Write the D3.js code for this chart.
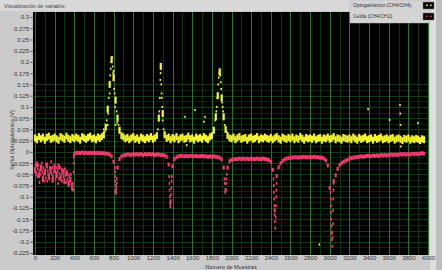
<!DOCTYPE html>
<html>
<head>
<meta charset="utf-8">
<script src="https://cdn.jsdelivr.net/npm/d3@7"></script>
<style>
  body { margin: 0; background: #cbcbcb; }
  text { font-family: "Liberation Sans", Arial, sans-serif; }
</style>
</head>
<body>
<div id="c1"></div>
<script>
// ---- data ----
chartTitle = "Visualización de variable."
xTitle = "Número de Muestras"
yTitle = "Señal Optogalvánica (V)"
seriesNames = ["Optogalvánico (CH4/CH4)", "Celda (CH4/CH2)"]

xTicks = [0, 200, 400, 600, 800, 1000, 1200, 1400, 1600, 1800, 2000, 2200, 2400, 2600, 2800, 3000, 3200, 3400, 3600, 3800, 4000]
yTicks = [0.3, 0.275, 0.25, 0.225, 0.2, 0.175, 0.15, 0.125, 0.1, 0.075, 0.05, 0.025, 0,
  -0.025, -0.05, -0.075, -0.1, -0.125, -0.15, -0.175, -0.2, -0.225]
yTickLabels = ["0.3", "0.275", "0.25", "0.225", "0.2", "0.175", "0.15", "0.125", "0.1", "0.075", "0.05", "0.025", "0",
  "-0.025", "-0.05", "-0.075", "-0.1", "-0.125", "-0.15", "-0.175", "-0.2", "-0.225"]

// one value every 20 samples, from sample 0
sampleStep = 20
optoValues = [
  0.031,0.027,0.034,0.029,0.033,0.026,0.032,0.035,0.028,0.030,
  0.033,0.029,0.026,0.034,0.031,0.028,0.035,0.030,0.027,0.032,
  0.029,0.033,0.030,0.026,0.034,0.031,0.028,0.032,0.035,0.029,
  0.031,0.027,0.033,0.030,0.034,0.038,0.055,0.095,0.150,0.205,
  0.165,0.115,0.075,0.048,0.036,0.033,0.029,0.032,0.027,0.031,
  0.034,0.028,0.031,0.026,0.033,0.030,0.027,0.032,0.029,0.034,
  0.028,0.031,0.036,0.075,0.190,0.085,0.038,0.030,0.033,0.027,
  0.032,0.029,0.034,0.027,0.031,0.033,0.028,0.030,0.035,0.029,
  0.031,0.026,0.033,0.029,0.032,0.028,0.034,0.030,0.027,0.033,
  0.036,0.048,0.078,0.125,0.178,0.120,0.078,0.050,0.036,0.031,
  0.029,0.033,0.027,0.031,0.034,0.028,0.030,0.032,0.026,0.031,
  0.033,0.028,0.030,0.034,0.027,0.031,0.029,0.033,0.030,0.028,
  0.032,0.027,0.031,0.034,0.029,0.026,0.033,0.030,0.028,0.032,
  0.029,0.033,0.027,0.031,0.028,0.034,0.030,0.026,0.032,0.029,
  0.031,0.028,0.033,0.027,0.030,0.032,0.026,0.031,0.029,0.033,
  0.028,0.030,0.034,0.027,0.031,0.029,0.026,0.032,0.030,0.028,
  0.031,0.027,0.033,0.029,0.026,0.032,0.028,0.030,0.033,0.027,
  0.029,0.031,0.026,0.032,0.028,0.030,0.033,0.027,0.029,0.031,
  0.027,0.030,0.032,0.026,0.029,0.031,0.028,0.025,0.030,0.028,
  0.031,0.026,0.029,0.027,0.030,0.028,0.025,0.029,0.027
]
celdaValues = [
  -0.040,-0.028,-0.052,-0.035,-0.060,-0.045,-0.030,-0.055,-0.040,-0.062,
  -0.038,-0.050,-0.033,-0.058,-0.045,-0.065,-0.048,-0.070,-0.062,-0.080,
  -0.005,-0.002,-0.002,-0.003,-0.001,-0.003,-0.002,-0.003,-0.002,-0.003,
  -0.002,-0.003,-0.002,-0.003,-0.003,-0.003,-0.004,-0.004,-0.006,-0.010,
  -0.022,-0.088,-0.035,-0.016,-0.010,-0.008,-0.007,-0.006,-0.006,-0.007,
  -0.005,-0.006,-0.005,-0.006,-0.005,-0.007,-0.005,-0.006,-0.005,-0.006,
  -0.005,-0.007,-0.006,-0.006,-0.007,-0.007,-0.008,-0.011,-0.028,-0.110,
  -0.032,-0.016,-0.012,-0.010,-0.009,-0.009,-0.010,-0.009,-0.010,-0.009,
  -0.009,-0.010,-0.009,-0.010,-0.010,-0.009,-0.010,-0.010,-0.011,-0.010,
  -0.011,-0.010,-0.011,-0.012,-0.013,-0.017,-0.035,-0.085,-0.035,-0.021,
  -0.018,-0.017,-0.016,-0.016,-0.015,-0.016,-0.015,-0.016,-0.015,-0.016,
  -0.015,-0.016,-0.016,-0.015,-0.016,-0.016,-0.015,-0.016,-0.017,-0.018,
  -0.022,-0.040,-0.130,-0.054,-0.034,-0.025,-0.020,-0.017,-0.015,-0.014,
  -0.013,-0.013,-0.012,-0.012,-0.013,-0.012,-0.012,-0.011,-0.012,-0.012,
  -0.012,-0.012,-0.011,-0.012,-0.012,-0.013,-0.013,-0.015,-0.019,-0.030,
  -0.080,-0.180,-0.065,-0.052,-0.038,-0.029,-0.025,-0.022,-0.020,-0.018,
  -0.015,-0.014,-0.013,-0.012,-0.012,-0.011,-0.010,-0.011,-0.010,-0.009,
  -0.009,-0.010,-0.008,-0.009,-0.008,-0.009,-0.007,-0.008,-0.007,-0.008,
  -0.007,-0.006,-0.007,-0.006,-0.007,-0.006,-0.005,-0.006,-0.005,-0.006,
  -0.005,-0.006,-0.004,-0.005,-0.004,-0.005,-0.004,-0.003,-0.004
]

// loose dots: [sample, value]
optoExtra = [
  [700,0.050],[710,0.045],[730,0.070],[740,0.060],[745,0.085],[750,0.120],[760,0.130],[765,0.170],[770,0.185],
  [775,0.200],[785,0.210],[790,0.190],[795,0.175],[800,0.180],[805,0.140],[810,0.130],[815,0.100],[820,0.060],
  [830,0.090],[835,0.065],[850,0.060],[860,0.050],
  [1250,0.050],[1265,0.090],[1270,0.120],[1275,0.160],[1278,0.175],[1283,0.190],[1285,0.150],[1288,0.130],
  [1290,0.120],[1295,0.100],[1300,0.070],[1310,0.050],
  [1835,0.070],[1845,0.090],[1850,0.100],[1855,0.120],[1865,0.150],[1870,0.165],[1875,0.175],[1880,0.180],
  [1885,0.170],[1890,0.155],[1895,0.140],[1905,0.110],[1910,0.100],[1915,0.090],[1930,0.060],[1950,0.045],
  [1527,0.078],[1544,0.015],[1628,0.093],[1720,0.067],[1730,0.078],
  [2894,-0.206],[3390,0.095],[3610,0.071],[3715,0.104],[3718,0.085],[3720,0.060],[3722,0.012],[3898,0.064]
]
celdaExtra = [
  [5,-0.030],[10,-0.050],[15,-0.045],[25,-0.055],[30,-0.038],[35,-0.030],[45,-0.068],[50,-0.042],[55,-0.050],
  [65,-0.040],[70,-0.025],[75,-0.045],[85,-0.035],[90,-0.050],[95,-0.065],[105,-0.040],[110,-0.058],
  [115,-0.028],[125,-0.065],[130,-0.042],[135,-0.050],[145,-0.060],[150,-0.035],[155,-0.045],[165,-0.022],
  [170,-0.050],[175,-0.035],[185,-0.055],[190,-0.045],[195,-0.030],[205,-0.045],[210,-0.060],[215,-0.035],
  [225,-0.055],[230,-0.042],[235,-0.070],[245,-0.060],[250,-0.048],[255,-0.035],[265,-0.055],[270,-0.040],
  [275,-0.065],[285,-0.040],[290,-0.055],[295,-0.045],[305,-0.038],[310,-0.052],[315,-0.068],[325,-0.045],
  [330,-0.060],[335,-0.050],[345,-0.075],[350,-0.055],[355,-0.065],[365,-0.050],[370,-0.072],[375,-0.080],
  [385,-0.070],[390,-0.085],[392,-0.045],[394,-0.025],[396,-0.012],
  [812,-0.035],[815,-0.045],[817,-0.055],[819,-0.065],[821,-0.075],[824,-0.085],[826,-0.092],[830,-0.080],
  [832,-0.070],[834,-0.060],
  [1365,-0.055],[1368,-0.070],[1370,-0.085],[1372,-0.100],[1375,-0.115],[1378,-0.122],[1384,-0.095],
  [1387,-0.080],[1390,-0.065],[1393,-0.055],
  [1928,-0.060],[1932,-0.070],[1936,-0.090],[1944,-0.070],[1948,-0.060],[1952,-0.050],
  [2428,-0.060],[2430,-0.075],[2432,-0.090],[2434,-0.105],[2436,-0.120],[2438,-0.140],[2442,-0.155],
  [2446,-0.170],[2450,-0.145],[2452,-0.120],[2454,-0.100],[2456,-0.085],[2458,-0.070],
  [3008,-0.090],[3010,-0.105],[3012,-0.120],[3014,-0.135],[3016,-0.150],[3018,-0.165],[3022,-0.195],
  [3026,-0.210],[3030,-0.190],[3032,-0.160],[3034,-0.130],[3036,-0.105],[3038,-0.085],[3039,-0.070]
]

optoColor = "#f4f532"
celdaColor = "#f23a6e"

W = 442, H = 270
plot = {left: 33, right: 429, top: 12, bottom: 255}

svg = d3.select("#c1")
  .append("svg")
  .attr("width", W)
  .attr("height", H)

svg.append("rect").attr("width", W).attr("height", H).attr("fill", "#cbcbcb")

// title bar
svg.append("rect").attr("x", 0).attr("y", 0).attr("width", 350).attr("height", 11).attr("fill", "#d8d8d8")
svg.append("text")
  .attr("x", 4).attr("y", 8)
  .style("font-size", "5.5px").attr("fill", "#444")
  .text(chartTitle)

// scroll strip on the right
svg.append("rect").attr("x", 430).attr("y", 0).attr("width", 6).attr("height", H).attr("fill", "#dedede")
svg.append("rect").attr("x", 436).attr("y", 0).attr("width", 6).attr("height", H).attr("fill", "#bdbdbd")

x = d3.scaleLinear().domain([0, 4000]).range([35, 428])
y = d3.scaleLinear().domain([-0.225, 0.3]).range([253, 17])

svg.append("rect")
  .attr("x", plot.left).attr("y", plot.top)
  .attr("width", plot.right - plot.left).attr("height", plot.bottom - plot.top)
  .attr("fill", "#000")

svg.append("clipPath").attr("id", "clip")
  .append("rect")
  .attr("x", plot.left).attr("y", plot.top)
  .attr("width", plot.right - plot.left).attr("height", plot.bottom - plot.top)

grid = svg.append("g").attr("clip-path", "url(#clip)")

// horizontal grid only shows from 0.15 down
hMinor = d3.range(0, 30).map(i => 0.15 - i * 0.0125)
grid.selectAll(".hg")
  .data(hMinor)
  .join("line")
  .attr("x1", plot.left).attr("x2", plot.right)
  .attr("y1", d => Math.round(y(d)) + 0.5).attr("y2", d => Math.round(y(d)) + 0.5)
  .attr("stroke", (d, i) => i % 2 ? "#092509" : "#113c11")

xMinor = d3.range(100, 4000, 200)
grid.selectAll(".vm")
  .data(xMinor)
  .join("line")
  .attr("x1", d => Math.round(x(d)) + 0.5).attr("x2", d => Math.round(x(d)) + 0.5)
  .attr("y1", plot.top).attr("y2", plot.bottom)
  .attr("stroke", "#0e360e")

grid.selectAll(".vM")
  .data(xTicks)
  .join("line")
  .attr("x1", d => Math.round(x(d)) + 0.5).attr("x2", d => Math.round(x(d)) + 0.5)
  .attr("y1", plot.top).attr("y2", plot.bottom)
  .attr("stroke", "#257725")

// series
dots = svg.append("g").attr("clip-path", "url(#clip)")

dots.selectAll(".opto")
  .data(optoValues)
  .join("rect")
  .attr("x", (d, i) => x(i * sampleStep) - 1.1)
  .attr("y", d => y(d) - 3.5)
  .attr("width", 2.2).attr("height", 7)
  .attr("fill", optoColor)

dots.selectAll(".optoX")
  .data(optoExtra)
  .join("rect")
  .attr("x", d => x(d[0]) - 0.8)
  .attr("y", d => y(d[1]) - 1)
  .attr("width", 1.6).attr("height", 2)
  .attr("fill", optoColor)

dots.selectAll(".celda")
  .data(celdaValues)
  .join("rect")
  .attr("x", (d, i) => x(i * sampleStep) - 1.1)
  .attr("y", (d, i) => y(d) - (i < 20 ? 3 : 2))
  .attr("width", 2.2).attr("height", (d, i) => i < 20 ? 6 : 4)
  .attr("fill", celdaColor)

dots.selectAll(".celdaX")
  .data(celdaExtra)
  .join("rect")
  .attr("x", d => x(d[0]) - 0.8)
  .attr("y", d => y(d[1]) - 1.5)
  .attr("width", 1.6).attr("height", 3)
  .attr("fill", celdaColor)

// axes
svg.append("g")
  .attr("transform", `translate(${plot.left}, 0)`)
  .call(d3.axisLeft(y).tickValues(yTicks).tickFormat((d, i) => yTickLabels[i]).tickSize(3).tickPadding(1))
  .call(g => g.select(".domain").remove())
  .call(g => g.selectAll("line").attr("stroke", "#666"))
  .call(g => g.selectAll("text").style("font-size", "6px").attr("fill", "#333")
    .style("font-family", "'Liberation Sans', Arial, sans-serif"))

svg.append("g")
  .attr("transform", `translate(0, ${plot.bottom - 1})`)
  .call(d3.axisBottom(x).tickValues(xTicks).tickFormat(d3.format("d")).tickSize(0).tickPadding(2))
  .call(g => g.select(".domain").remove())
  .call(g => g.selectAll("text").style("font-size", "6px").attr("fill", "#333")
    .style("font-family", "'Liberation Sans', Arial, sans-serif"))

svg.append("text")
  .attr("x", 231).attr("y", 268.5)
  .attr("text-anchor", "middle")
  .style("font-size", "5.5px").attr("fill", "#333")
  .text(xTitle)

svg.append("text")
  .attr("transform", "translate(12, 140) rotate(-90)")
  .attr("text-anchor", "middle")
  .attr("dy", "0.35em")
  .style("font-size", "5.5px").attr("fill", "#333")
  .text(yTitle)

// legend
legend = svg.append("g")
legend.append("rect")
  .attr("x", 350).attr("y", 0).attr("width", 80).attr("height", 23)
  .attr("fill", "#d4d4d4").attr("stroke", "#b0b0b0").attr("stroke-width", 0.5)

legendColors = [optoColor, celdaColor]
seriesNames.forEach(function(name, i) {
  legend.append("text")
    .attr("x", 353).attr("y", 7 + i * 11)
    .style("font-size", "5px").attr("fill", "#333")
    .text(name)
  legend.append("rect")
    .attr("x", 423).attr("y", 2 + i * 11).attr("width", 11).attr("height", 7)
    .attr("fill", "#000").attr("stroke", "#888").attr("stroke-width", 0.5)
  legend.selectAll(".sw" + i)
    .data([426, 430])
    .join("rect")
    .attr("x", d => d).attr("y", 4.5 + i * 11)
    .attr("width", 1.6).attr("height", 1.6)
    .attr("fill", legendColors[i])
})
</script>
</body>
</html>
